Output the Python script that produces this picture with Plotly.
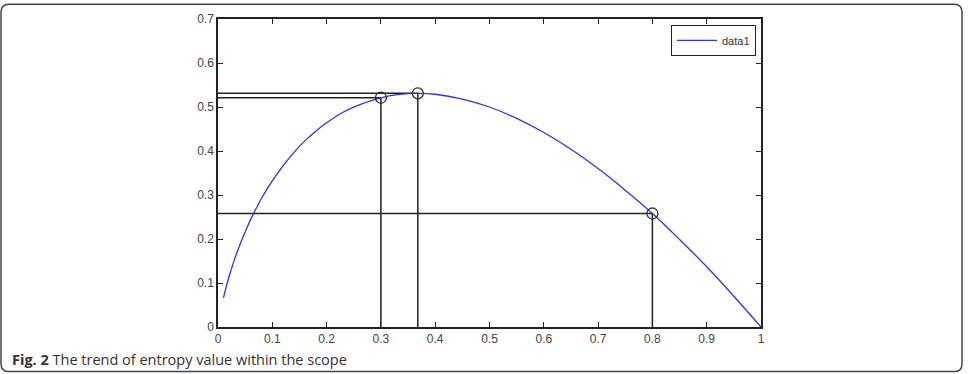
import plotly.graph_objects as go

# Curve
x_vals = [0.01, 0.02, 0.03, 0.04, 0.05, 0.06, 0.08, 0.10, 0.12, 0.14, 0.16, 0.18, 0.20,
          0.23, 0.26, 0.30, 0.33, 0.37, 0.40, 0.45, 0.50, 0.55, 0.60, 0.65, 0.70, 0.75,
          0.80, 0.85, 0.90, 0.95, 1.00]
y_vals = [0.066, 0.113, 0.152, 0.186, 0.216, 0.244, 0.292, 0.332, 0.367, 0.397, 0.423,
          0.445, 0.464, 0.488, 0.505, 0.521, 0.528, 0.531, 0.529, 0.518, 0.500, 0.474,
          0.442, 0.404, 0.360, 0.311, 0.258, 0.199, 0.137, 0.070, 0.000]

# Marked points
mark_x = [0.30, 0.368, 0.80]
mark_y = [0.521, 0.531, 0.258]

x_ticks = [0, 0.1, 0.2, 0.3, 0.4, 0.5, 0.6, 0.7, 0.8, 0.9, 1]
x_tick_labels = ["0", "0.1", "0.2", "0.3", "0.4", "0.5", "0.6", "0.7", "0.8", "0.9", "1"]
y_ticks = [0, 0.1, 0.2, 0.3, 0.4, 0.5, 0.6, 0.7]
y_tick_labels = ["0", "0.1", "0.2", "0.3", "0.4", "0.5", "0.6", "0.7"]

fig = go.Figure()

# guide lines to axes
for mx, my in zip(mark_x, mark_y):
    fig.add_trace(go.Scatter(x=[0, mx, mx], y=[my, my, 0], mode="lines",
                             line=dict(color="#222222", width=1.5),
                             showlegend=False, hoverinfo="skip"))

fig.add_trace(go.Scatter(x=x_vals, y=y_vals, mode="lines", name="data1",
                         line=dict(color="#3333dd", width=1.3, shape="spline")))

fig.add_trace(go.Scatter(x=mark_x, y=mark_y, mode="markers", showlegend=False,
                         marker=dict(symbol="circle-open", size=11,
                                     color="#333333", line=dict(width=1.3))))

W, H = 971, 374
L, R, T, B = 218, 210, 16, 47
pw, ph = W - L - R, H - T - B


def px(x):
    return (x - L) / pw


def py(y):
    return (H - B - y) / ph


# rounded frame
x0, x1, y0, y1 = px(1), px(962), py(1), py(372)
rx, ry = 8 / pw, 8 / ph
path = (f"M {x0+rx},{y0} L {x1-rx},{y0} Q {x1},{y0} {x1},{y0-ry} "
        f"L {x1},{y1+ry} Q {x1},{y1} {x1-rx},{y1} "
        f"L {x0+rx},{y1} Q {x0},{y1} {x0},{y1+ry} "
        f"L {x0},{y0-ry} Q {x0},{y0} {x0+rx},{y0} Z")

fig.update_layout(
    width=W, height=H,
    margin=dict(l=L, r=R, t=T, b=B),
    paper_bgcolor="white", plot_bgcolor="white",
    font=dict(family="Liberation Sans, Arial, sans-serif", size=12, color="#333333"),
    xaxis=dict(range=[0, 1], tickvals=x_ticks, ticktext=x_tick_labels,
               showgrid=False, zeroline=False, showline=True, mirror="ticks",
               linecolor="#222222", linewidth=1.5, ticks="inside", ticklen=5,
               tickcolor="#222222", tickfont=dict(size=12, color="#444444")),
    yaxis=dict(range=[0, 0.7], tickvals=y_ticks, ticktext=y_tick_labels,
               showgrid=False, zeroline=False, showline=True, mirror="ticks",
               linecolor="#222222", linewidth=1.5, ticks="inside", ticklen=5,
               tickcolor="#222222", tickfont=dict(size=12, color="#444444")),
    legend=dict(x=px(756), y=py(22), xanchor="right", yanchor="top",
                bordercolor="#222222", borderwidth=1, bgcolor="white",
                font=dict(size=11, color="#333333"), itemwidth=40,
                tracegroupgap=0),
    shapes=[dict(type="path", xref="paper", yref="paper", path=path,
                 line=dict(color="#444444", width=1.5), layer="above")],
    annotations=[dict(xref="paper", yref="paper", x=px(10), y=py(360),
                      xanchor="left", yanchor="middle", showarrow=False,
                      text="<b>Fig. 2</b> The trend of entropy value within the scope",
                      font=dict(family="Open Sans, Noto Sans, sans-serif", size=14.5,
                                color="#333333"))],
)

fig.write_html("out.html")
